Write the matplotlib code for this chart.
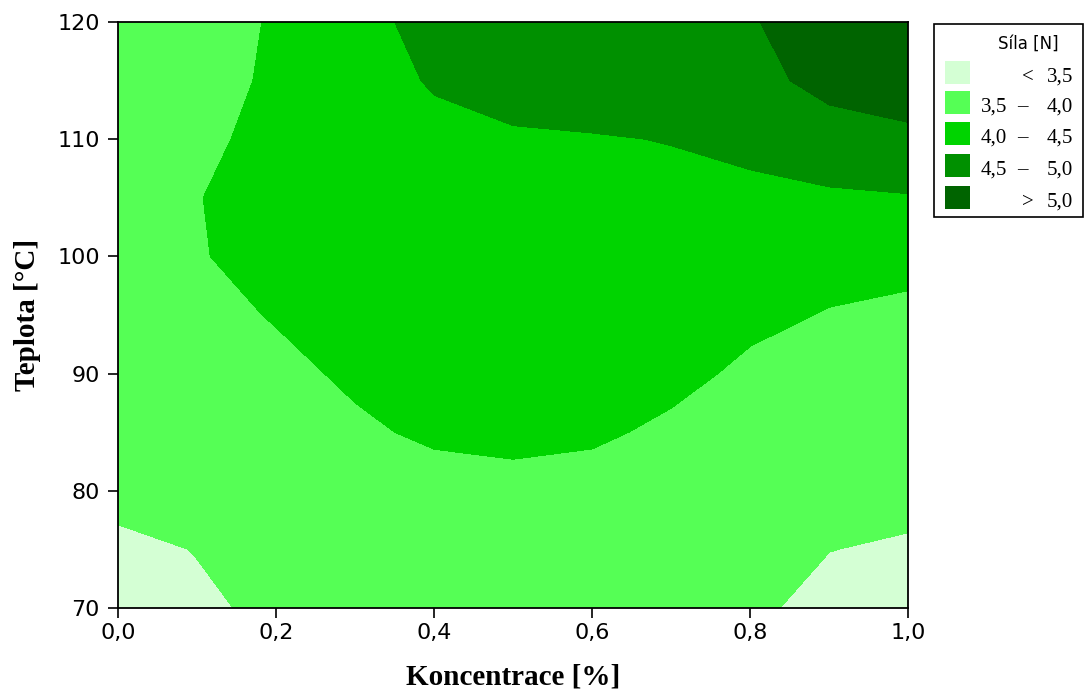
import numpy as np
import matplotlib
matplotlib.use("Agg")
import matplotlib.pyplot as plt
from matplotlib.patches import Rectangle

# ---- data ----
koncentrace = [0.0, 0.1, 0.2, 0.3, 0.4, 0.5, 0.6, 0.7, 0.8, 0.9, 1.0]
teplota = [70, 75, 80, 85, 90, 95, 100, 105, 110, 115, 120]

sila_t70 = [3.30, 3.45, 3.56, 3.55, 3.58, 3.60, 3.62, 3.60, 3.56, 3.40, 3.35]
sila_t75 = [3.42, 3.51, 3.62, 3.65, 3.68, 3.70, 3.70, 3.66, 3.60, 3.505, 3.46]
sila_t80 = [3.61, 3.64, 3.72, 3.80, 3.83, 3.86, 3.85, 3.76, 3.70, 3.62, 3.60]
sila_t85 = [3.65, 3.72, 3.80, 3.93, 4.07, 4.12, 4.06, 3.93, 3.80, 3.74, 3.72]
sila_t90 = [3.70, 3.78, 3.89, 4.07, 4.20, 4.25, 4.20, 4.10, 3.93, 3.85, 3.83]
sila_t95 = [3.73, 3.86, 4.03, 4.20, 4.30, 4.33, 4.30, 4.25, 4.08, 3.98, 3.95]
sila_t100 = [3.75, 3.98, 4.10, 4.25, 4.36, 4.38, 4.37, 4.35, 4.25, 4.13, 4.07]
sila_t105 = [3.75, 3.99, 4.12, 4.28, 4.40, 4.42, 4.42, 4.42, 4.40, 4.45, 4.47]
sila_t110 = [3.72, 3.91, 4.12, 4.32, 4.44, 4.47, 4.48, 4.51, 4.61, 4.72, 4.90]
sila_t115 = [3.68, 3.76, 4.10, 4.40, 4.52, 4.60, 4.67, 4.70, 4.80, 5.20, 5.25]
sila_t120 = [3.65, 3.73, 4.06, 4.45, 4.55, 4.72, 4.80, 4.88, 4.95, 5.35, 5.50]

levels = [3.0, 3.5, 4.0, 4.5, 5.0, 6.0]
level_colors = ["#d4ffd4", "#55ff55", "#00d400", "#009000", "#006400"]
legend_left = ["", "3,5", "4,0", "4,5", ""]
legend_mid = ["<", "\u2013", "\u2013", "\u2013", ">"]
legend_right = ["3,5", "4,0", "4,5", "5,0", "5,0"]

x_ticks = [0.0, 0.2, 0.4, 0.6, 0.8, 1.0]
x_ticklabels = ["0,0", "0,2", "0,4", "0,6", "0,8", "1,0"]
y_ticks = [70, 80, 90, 100, 110, 120]
y_ticklabels = ["70", "80", "90", "100", "110", "120"]

Z = np.array([sila_t70, sila_t75, sila_t80, sila_t85, sila_t90, sila_t95,
              sila_t100, sila_t105, sila_t110, sila_t115, sila_t120])

W, H = 1086, 690
fig = plt.figure(figsize=(W / 100, H / 100), dpi=100)
ax = fig.add_axes([118 / W, 1 - 608 / H, (908.5 - 118) / W, (608 - 22) / H])

ax.contourf(koncentrace, teplota, Z, levels=levels, colors=level_colors,
            antialiased=False)

ax.set_xlim(0, 1)
ax.set_ylim(70, 120)
ax.set_xticks(x_ticks)
ax.set_xticklabels(x_ticklabels)
ax.set_yticks(y_ticks)
ax.set_yticklabels(y_ticklabels)
ax.tick_params(axis="both", direction="out", length=7.5, width=1.2,
               colors="black", labelsize=16)
ax.tick_params(axis="x", pad=3.5)
ax.tick_params(axis="y", pad=5.5)
for lab in ax.get_xticklabels() + ax.get_yticklabels():
    lab.set_fontfamily("DejaVu Sans")
for s in ax.spines.values():
    s.set_linewidth(1.3)
    s.set_color("black")

ax.set_xlabel("Koncentrace [%]", fontfamily="Liberation Serif",
              fontweight="bold", fontsize=21)
ax.set_ylabel("Teplota [\u00b0C]", fontfamily="Liberation Serif",
              fontweight="bold", fontsize=21)
ax.xaxis.set_label_coords(0.5, -0.094)
ax.yaxis.set_label_coords(-0.098, 0.5)


# ---- legend box (figure pixel placement) ----
def fx(px):
    return px / W


def fy(py):
    return 1 - py / H


fig.add_artist(Rectangle((fx(934), fy(217)), fx(1083) - fx(934), fy(24) - fy(217),
                         transform=fig.transFigure, facecolor="white",
                         edgecolor="black", linewidth=1.2))
fig.text(fx(1028), fy(44), "S\u00edla [N]", fontsize=12, fontfamily="DejaVu Sans",
         ha="center", va="center")
patch_tops = [61, 91, 122, 154, 186]
for i, col in enumerate(level_colors):
    top = patch_tops[i]
    fig.add_artist(Rectangle((fx(945), fy(top + 23)), fx(970) - fx(945),
                             fy(top) - fy(top + 23), transform=fig.transFigure,
                             facecolor=col, edgecolor="none"))
    base = top + 20.5
    if legend_left[i]:
        fig.text(fx(1007), fy(base), legend_left[i], fontsize=15,
                 fontfamily="Liberation Serif", ha="right", va="baseline")
    midx = 1022 if legend_left[i] else 1028
    fig.text(fx(midx), fy(base), legend_mid[i], fontsize=15,
             fontfamily="Liberation Serif", ha="center", va="baseline")
    fig.text(fx(1047), fy(base), legend_right[i], fontsize=15,
             fontfamily="Liberation Serif", ha="left", va="baseline")

fig.savefig("out.png", dpi=100)
